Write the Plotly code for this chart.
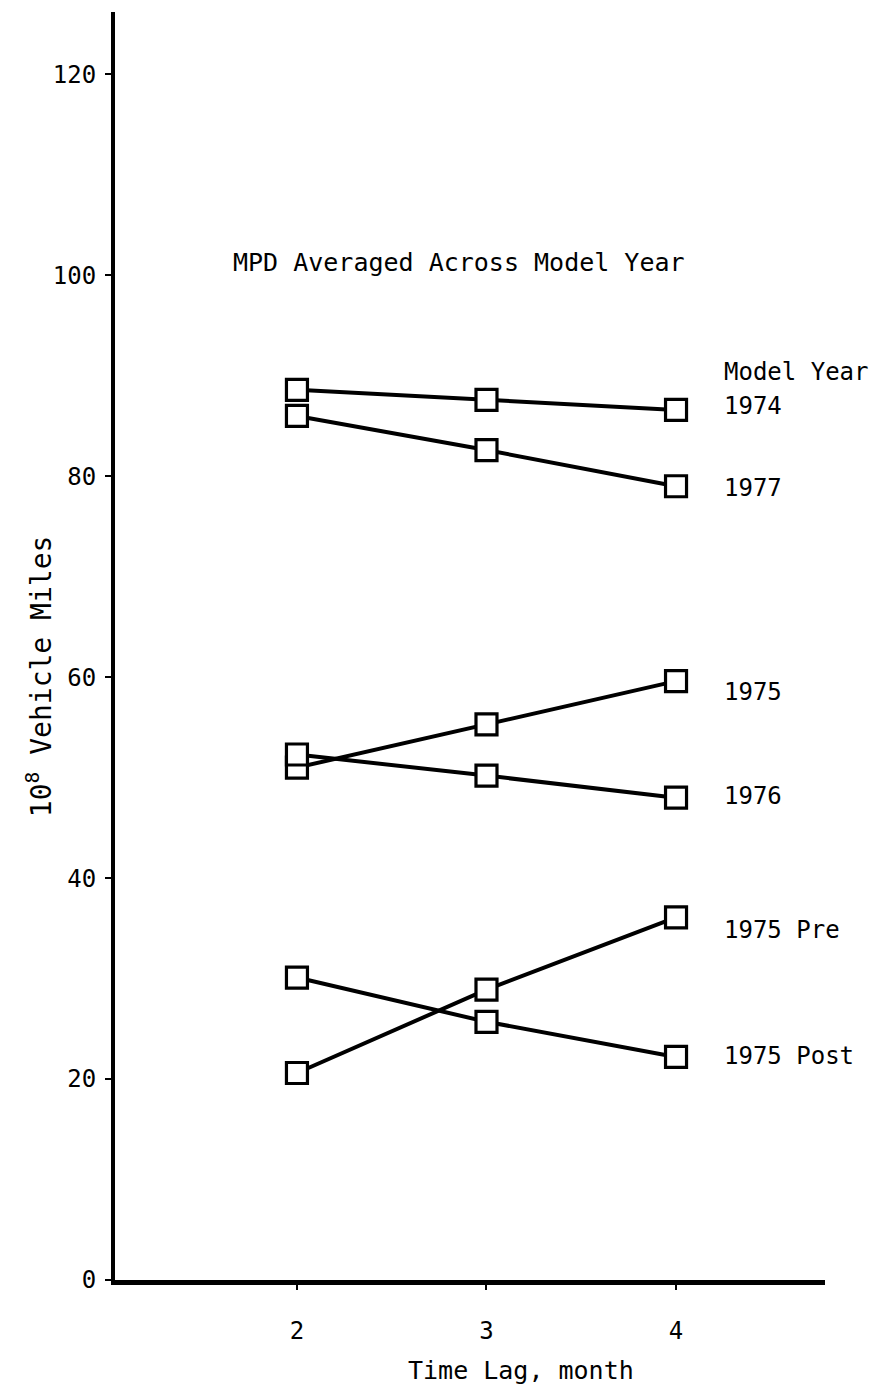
import plotly.graph_objects as go

# ---- data ----
time_lag = [2, 3, 4]
series_names = ["1974", "1977", "1975", "1976", "1975 Pre", "1975 Post"]
v1974 = [88.6, 87.6, 86.6]
v1977 = [86.0, 82.6, 79.0]
v1975 = [51.0, 55.3, 59.6]
v1976 = [52.3, 50.2, 48.0]
v1975_pre = [20.6, 28.9, 36.1]
v1975_post = [30.1, 25.7, 22.2]
series_values = [v1974, v1977, v1975, v1976, v1975_pre, v1975_post]
label_y = [87.0, 78.8, 58.5, 48.2, 34.8, 22.3]
y_ticks = [0, 20, 40, 60, 80, 100, 120]
x_ticks = [2, 3, 4]

FONT = "DejaVu Sans Mono"

fig = go.Figure()
for name, vals in zip(series_names, series_values):
    fig.add_trace(go.Scatter(
        x=time_lag, y=vals, mode="lines+markers", name=name,
        line=dict(color="black", width=4),
        marker=dict(symbol="square", size=21, color="white",
                    line=dict(color="black", width=3.2)),
        showlegend=False,
    ))

annotations = []
for name, ly in zip(series_names, label_y):
    annotations.append(dict(x=4.24, y=ly, xref="x", yref="y", text=name,
                            showarrow=False, xanchor="left", yanchor="middle",
                            font=dict(family=FONT, size=24, color="black")))
annotations.append(dict(x=4.24, y=90.4, xref="x", yref="y", text="Model Year",
                        showarrow=False, xanchor="left", yanchor="middle",
                        font=dict(family=FONT, size=24, color="black")))
annotations.append(dict(x=2.855, y=101.3, xref="x", yref="y",
                        text="MPD Averaged Across Model Year",
                        showarrow=False, xanchor="center", yanchor="middle",
                        font=dict(family=FONT, size=25, color="black")))
annotations.append(dict(x=3.18, y=-0.071, xref="x", yref="paper",
                        text="Time Lag, month",
                        showarrow=False, xanchor="center", yanchor="middle",
                        font=dict(family=FONT, size=25, color="black")))
annotations.append(dict(x=-0.106, y=0.476, xref="paper", yref="paper",
                        text="10<sup>8</sup> Vehicle Miles", textangle=-90,
                        showarrow=False, xanchor="center", yanchor="middle",
                        font=dict(family=FONT, size=28, color="black")))

fig.update_layout(
    width=881, height=1394,
    margin=dict(l=115, r=56, t=12, b=114),
    paper_bgcolor="white", plot_bgcolor="white",
    annotations=annotations,
    xaxis=dict(range=[1.04, 4.786], tickvals=x_ticks, ticktext=[str(t) for t in x_ticks],
               showgrid=False, zeroline=False, showline=True, linecolor="black",
               linewidth=5, ticks="outside", ticklen=5, tickwidth=2, tickcolor="black",
               ticklabelstandoff=20,
               tickfont=dict(family=FONT, size=24, color="black")),
    yaxis=dict(range=[0, 126.2], tickvals=y_ticks, ticktext=[str(t) for t in y_ticks],
               showgrid=False, zeroline=False, showline=True, linecolor="black",
               linewidth=4, ticks="outside", ticklen=6, tickwidth=2, tickcolor="black",
               ticklabelstandoff=4,
               tickfont=dict(family=FONT, size=24, color="black")),
)

fig.write_html("out.html")
